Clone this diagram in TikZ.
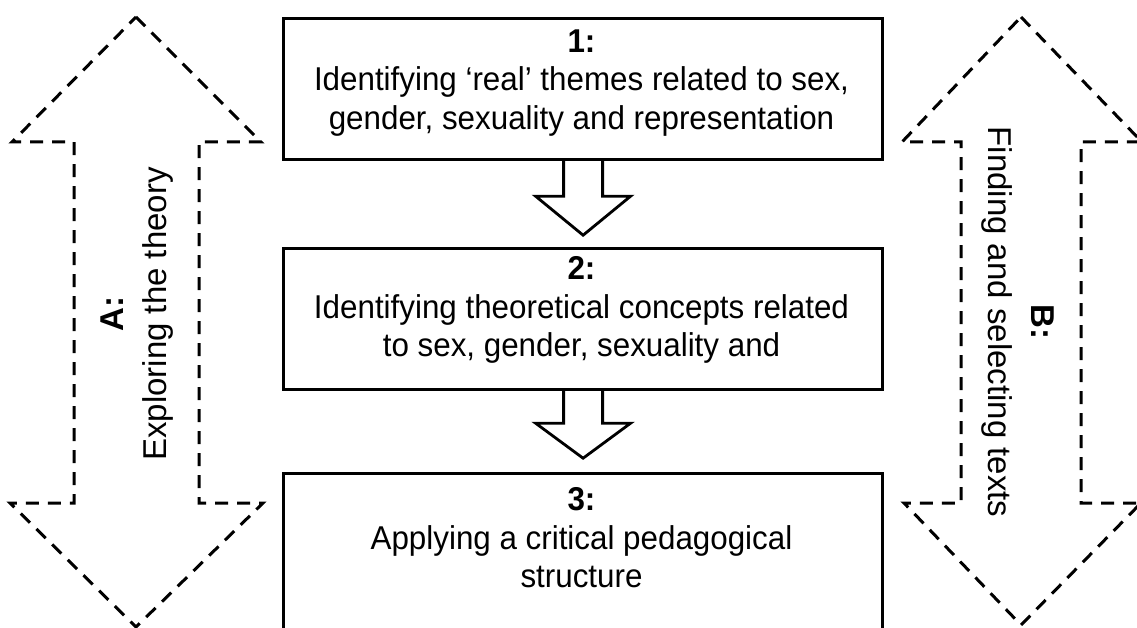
\documentclass[tikz,border=0pt]{standalone}
\usepackage{fontspec}
\setmainfont{Liberation Sans}
\newfontfamily\stagefont{Liberation Sans}[FakeStretch=0.95]
\begin{document}
\begin{tikzpicture}[x=1pt,y=-1pt,
  stage/.style={draw, line width=3.2pt, minimum width=599pt, inner sep=0pt, anchor=north west},
  stagetxt/.style={align=center, inner sep=0pt, font=\stagefont\fontsize{33}{38.5}\selectfont},
  sidetxt/.style={align=center, inner sep=0pt, font=\fontsize{33}{43}\selectfont},
  blockarrow/.style={draw, line width=2.8pt, line join=miter},
  dasharrow/.style={draw, line width=3pt, dash pattern=on 13pt off 9pt, line join=miter}]
\path[use as bounding box] (0,0) rectangle (1137,628);
\clip (0,0) rectangle (1137,628);

% the three stages
\node[stage, minimum height=141pt] (b1) at (282,17) {};
\node[stage, minimum height=141pt] (b2) at (282,247) {};
\node[stage, minimum height=175pt] (b3) at (282,472) {};

\node[stagetxt] (t1) at (581.5,83) {\textbf{1:}\\Identifying ‘real’ themes related to sex,\\gender, sexuality and representation};
\node[stagetxt] (t2) at (581.5,310) {\textbf{2:}\\Identifying theoretical concepts related\\to sex, gender, sexuality and};
\node[stagetxt] (t3) at (581.5,538) {\textbf{3:}\\Applying a critical pedagogical\\structure};

% hollow arrows between the stages
\draw[blockarrow] ([xshift=-19.5pt]b1.south) -- ++(0,35) -- ++(-28,0) -- ++(47.5,39) -- ++(47.5,-39) -- ++(-28,0) -- ([xshift=19.5pt]b1.south);
\draw[blockarrow] ([xshift=-19.5pt]b2.south) -- ++(0,32) -- ++(-28,0) -- ++(47.5,35) -- ++(47.5,-35) -- ++(-28,0) -- ([xshift=19.5pt]b2.south);

% dashed double arrows at the sides
\draw[dasharrow] (136,17) -- (261,142) -- (199,142) -- (199,503) -- (263,503) -- (136,627)
  -- (10,503) -- (74,503) -- (74,142) -- (12,142) -- cycle;
\draw[dasharrow] (1021,17) -- (1142,142) -- (1081,142) -- (1081,503) -- (1141,503) -- (1021,625)
  -- (904,503) -- (961,503) -- (961,142) -- (902,142) -- cycle;

\node[sidetxt, rotate=90] (la) at (137,314) {\textbf{A:}\\Exploring the theory};
\node[sidetxt, rotate=-90] (lb) at (1018,322) {\textbf{B:}\\Finding and selecting texts};
\end{tikzpicture}
\end{document}
